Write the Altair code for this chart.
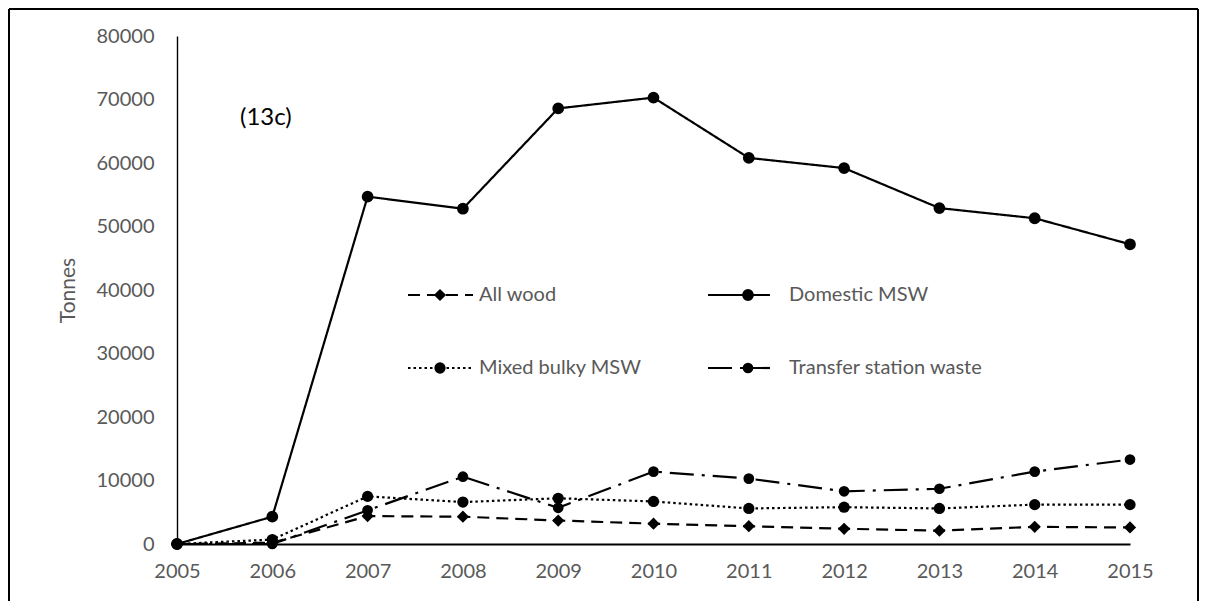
import altair as alt
import pandas as pd

years = list(range(2005, 2016))
series_names = ["All wood", "Domestic MSW", "Mixed bulky MSW", "Transfer station waste"]
all_wood = [0, 200, 4400, 4300, 3700, 3200, 2800, 2400, 2100, 2700, 2600]
domestic_msw = [0, 4300, 54700, 52800, 68600, 70300, 60800, 59200, 52900, 51300, 47200]
mixed_bulky_msw = [0, 700, 7500, 6600, 7200, 6700, 5600, 5800, 5600, 6200, 6200]
transfer_station = [0, 0, 5300, 10600, 5700, 11400, 10300, 8300, 8700, 11400, 13300]
y_ticks = list(range(0, 80001, 10000))
panel_label = ["(13c)"]

rows = []
for name, vals in zip(series_names, [all_wood, domestic_msw, mixed_bulky_msw, transfer_station]):
    for yr, v in zip(years, vals):
        rows.append({"year": yr, "tonnes": v, "series": name})
df = pd.DataFrame(rows)

W, H = 953, 508
PAD = {"left": 169, "top": 28, "right": 69, "bottom": 57}
FONT = "Lato"
GREY = "#595959"

dash_scale = alt.Scale(domain=series_names, range=[[12, 7], [1, 0], [2.5, 3], [24, 8, 3, 8]])
shape_scale = alt.Scale(domain=series_names, range=["diamond", "circle", "circle", "circle"])
size_scale = alt.Scale(domain=series_names, range=[150, 115, 130, 130])
leg_size_scale = alt.Scale(domain=series_names, range=[70, 90, 90, 90])

x_enc = alt.X("year:Q", scale=alt.Scale(domain=[2005, 2015], nice=False, zero=False),
              axis=alt.Axis(values=years, format="d", title=None, grid=False, ticks=False,
                            labelPadding=17, labelFlush=False, labelOverlap=False,
                            domainColor="black", domainWidth=2,
                            labelColor=GREY, labelFontSize=20, labelFont=FONT))
y_enc = alt.Y("tonnes:Q", scale=alt.Scale(domain=[0, 80000], nice=False),
              axis=alt.Axis(values=y_ticks, format="d", title="Tonnes", grid=False, ticks=False,
                            labelPadding=23, domainColor="black", domainWidth=1.4,
                            labelColor=GREY, labelFontSize=20, labelFont=FONT,
                            titleColor=GREY, titleFontSize=21, titleFont=FONT,
                            titleFontWeight="normal", titlePadding=18))

lines = alt.Chart(df).mark_line(color="black", strokeWidth=2.2).encode(
    x=x_enc, y=y_enc,
    strokeDash=alt.StrokeDash("series:N", scale=dash_scale, legend=None),
)
points = alt.Chart(df).mark_point(filled=True, color="black", opacity=1).encode(
    x=x_enc, y=y_enc,
    shape=alt.Shape("series:N", scale=shape_scale, legend=None),
    size=alt.Size("series:N", scale=size_scale, legend=None),
)
label = alt.Chart(pd.DataFrame({"label": panel_label})).mark_text(
    font=FONT, fontSize=24, color="black", align="left", baseline="middle"
).encode(text="label:N", x=alt.value(63), y=alt.value(82))

main = alt.layer(lines, points, label)

# custom legend laid out in two columns / two rows
col_of = [0, 1, 0, 1]
row_of = [0, 0, 1, 1]
col_x0 = [231, 531]
col_x1 = [296, 593]
col_xm = [263, 571]
col_xt = [302, 612]
row_y = [259, 332]
leg_df = pd.DataFrame({
    "series": series_names,
    "x0": [col_x0[c] for c in col_of],
    "x1": [col_x1[c] for c in col_of],
    "xm": [col_xm[c] for c in col_of],
    "xt": [col_xt[c] for c in col_of],
    "ly": [row_y[r] for r in row_of],
})
leg_lines = alt.Chart(leg_df).mark_rule(color="black", strokeWidth=2.2).encode(
    x=alt.X("x0:Q", scale=None, axis=None), x2="x1:Q",
    y=alt.Y("ly:Q", scale=None, axis=None),
    strokeDash=alt.StrokeDash("series:N", scale=dash_scale, legend=None),
)
leg_pts = alt.Chart(leg_df).mark_point(filled=True, color="black", opacity=1).encode(
    x=alt.X("xm:Q", scale=None, axis=None),
    y=alt.Y("ly:Q", scale=None, axis=None),
    shape=alt.Shape("series:N", scale=shape_scale, legend=None),
    size=alt.Size("series:N", scale=leg_size_scale, legend=None),
)
leg_txt = alt.Chart(leg_df).mark_text(font=FONT, fontSize=20, color=GREY, align="left",
                                      baseline="middle").encode(
    x=alt.X("xt:Q", scale=None, axis=None),
    y=alt.Y("ly:Q", scale=None, axis=None),
    text="series:N",
)

one = pd.DataFrame({"k": [0]})
frame_left = alt.Chart(one).mark_rule(color="black", strokeWidth=2).encode(
    x=alt.value(-PAD["left"] + 1), y=alt.value(-PAD["top"] + 1), y2=alt.value(H + PAD["bottom"]))
frame_top = alt.Chart(one).mark_rule(color="black", strokeWidth=2).encode(
    x=alt.value(-PAD["left"] + 1), x2=alt.value(W + PAD["right"] - 1), y=alt.value(-PAD["top"] + 1))
frame_right = alt.Chart(one).mark_rule(color="black", strokeWidth=2).encode(
    x=alt.value(W + PAD["right"] - 1), y=alt.value(-PAD["top"] + 1), y2=alt.value(H + PAD["bottom"]))

chart = alt.layer(main, leg_lines, leg_pts, leg_txt, frame_left, frame_top, frame_right).resolve_scale(
    x="independent", y="independent"
).properties(
    width=W, height=H, padding=PAD, autosize=alt.AutoSizeParams(type="none"), background="white"
).configure_view(stroke=None)

chart.save("out.html", embed_options={"renderer": "svg", "actions": False})
